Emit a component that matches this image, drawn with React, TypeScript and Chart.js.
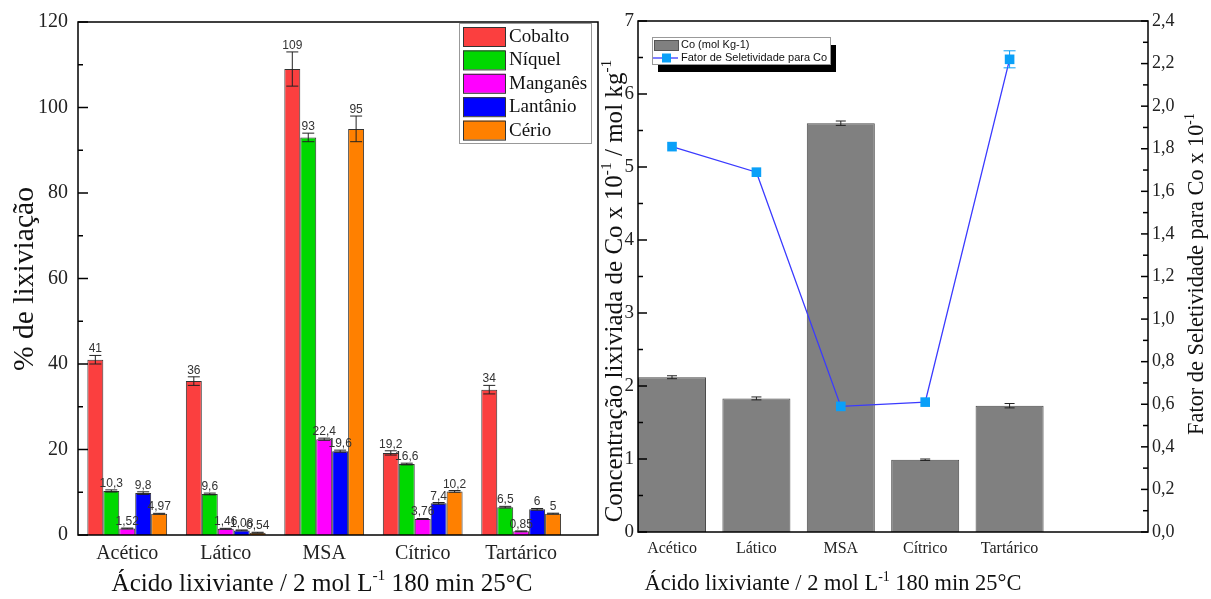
import React, { useEffect, useRef } from 'react';
import { Chart, registerables } from 'chart.js';
Chart.register(...registerables);

// ---------- data ----------
const categories = ['Acético', 'Lático', 'MSA', 'Cítrico', 'Tartárico'];

const metals = ['Cobalto', 'Níquel', 'Manganês', 'Lantânio', 'Cério'];
const metalColors = ['#fb3f3f', '#00d800', '#ff00ff', '#0000ff', '#ff8000'];
const cobalto = [41, 36, 109, 19.2, 34];
const niquel = [10.3, 9.6, 93, 16.6, 6.5];
const manganes = [1.52, 1.46, 22.4, 3.76, 0.85];
const lantanio = [9.8, 1.08, 19.6, 7.4, 6];
const cerio = [4.97, 0.54, 95, 10.2, 5];
const cobaltoErr = [1, 1, 4, 0.5, 1];
const niquelErr = [0.25, 0.2, 1, 0.2, 0.2];
const manganesErr = [0.1, 0.1, 0.25, 0.1, 0.1];
const lantanioErr = [0.3, 0.1, 0.25, 0.2, 0.2];
const cerioErr = [0.1, 0.1, 3, 0.2, 0.1];

const coConc = [2.12, 1.83, 5.6, 0.99, 1.73];
const coConcErr = [0.02, 0.02, 0.03, 0.01, 0.03];
const selectivity = [1.81, 1.69, 0.59, 0.61, 2.22];
const selectivityErr = [0, 0, 0, 0, 0.04];

const pctTicks = [0, 20, 40, 60, 80, 100, 120];
const concTicks = [0, 1, 2, 3, 4, 5, 6, 7];
const selTicks = [0, 0.2, 0.4, 0.6, 0.8, 1.0, 1.2, 1.4, 1.6, 1.8, 2.0, 2.2, 2.4];

// ---------- helpers ----------
const comma = (v: number) => String(v).replace('.', ',');

function withMinor(majors: number[]) {
  const out: { value: number; major: boolean }[] = [];
  majors.forEach((v, i) => {
    out.push({ value: v, major: true });
    if (i < majors.length - 1) out.push({ value: (v + majors[i + 1]) / 2, major: false });
  });
  return out;
}

type Seg = { t: string; sup?: boolean };
function drawRich(ctx: CanvasRenderingContext2D, segs: Seg[], x: number, y: number, angle: number, length: number, family = 'Liberation Serif', color = '#111') {
  const measure = (size: number) =>
    segs.reduce((w, s) => {
      ctx.font = `${s.sup ? size * 0.62 : size}px "${family}"`;
      return w + ctx.measureText(s.t).width;
    }, 0);
  const size = (20 * length) / measure(20);
  const total = measure(size);
  ctx.save();
  ctx.translate(x, y);
  ctx.rotate(angle);
  ctx.fillStyle = color;
  ctx.textBaseline = 'alphabetic';
  ctx.textAlign = 'left';
  let cx = -total / 2;
  segs.forEach((s) => {
    const fs = s.sup ? size * 0.62 : size;
    ctx.font = `${fs}px "${family}"`;
    ctx.fillText(s.t, cx, s.sup ? -size * 0.42 : 0);
    cx += ctx.measureText(s.t).width;
  });
  ctx.restore();
}

const errorBarPlugin = {
  id: 'errorBars',
  afterDatasetsDraw(chart: any) {
    const ctx = chart.ctx as CanvasRenderingContext2D;
    chart.data.datasets.forEach((ds: any, di: number) => {
      const errs: number[] | undefined = ds.errors;
      if (!errs) return;
      const meta = chart.getDatasetMeta(di);
      const ys = chart.scales[meta.yAxisID];
      meta.data.forEach((el: any, i: number) => {
        const v = ds.data[i].y;
        const e = errs[i];
        const x = el.x;
        const yTop = ys.getPixelForValue(v + e);
        const yBot = ys.getPixelForValue(v - e);
        ctx.save();
        if (e > 0) {
          const cap = ds.capWidth || 6;
          ctx.strokeStyle = ds.errorColor || '#222';
          ctx.lineWidth = 1;
          ctx.beginPath();
          ctx.moveTo(x, yTop);
          ctx.lineTo(x, yBot);
          ctx.moveTo(x - cap, yTop);
          ctx.lineTo(x + cap, yTop);
          ctx.moveTo(x - cap, yBot);
          ctx.lineTo(x + cap, yBot);
          ctx.stroke();
        }
        if (ds.valueLabels) {
          ctx.fillStyle = '#333';
          ctx.font = '12px "Liberation Sans"';
          ctx.textAlign = 'center';
          ctx.textBaseline = 'alphabetic';
          ctx.fillText(comma(v), x, yTop - 3);
        }
        ctx.restore();
      });
    });
  },
};

type AxisDef = { id: string; side: 'left' | 'right'; major: number; minor: number };
type TitleDef = { segs: Seg[]; x: number; y: number; angle: number; length: number };
function makeDecor(axes: AxisDef[], titles: TitleDef[], legend: (ctx: CanvasRenderingContext2D) => void) {
  return {
    id: 'decor',
    afterDraw(chart: any) {
      const ctx = chart.ctx as CanvasRenderingContext2D;
      const a = chart.chartArea;
      ctx.save();
      ctx.strokeStyle = '#000';
      ctx.lineWidth = 1.5;
      ctx.strokeRect(a.left, a.top, a.right - a.left, a.bottom - a.top);
      axes.forEach((ax) => {
        const sc = chart.scales[ax.id];
        sc.ticks.forEach((t: any) => {
          const y = sc.getPixelForValue(t.value);
          const len = t.label ? ax.major : ax.minor;
          const x0 = ax.side === 'left' ? a.left : a.right;
          const dir = ax.side === 'left' ? 1 : -1;
          ctx.beginPath();
          ctx.moveTo(x0, y);
          ctx.lineTo(x0 + dir * len, y);
          ctx.stroke();
        });
      });
      ctx.restore();
      titles.forEach((t) => drawRich(ctx, t.segs, t.x, t.y, t.angle, t.length));
      ctx.save();
      legend(ctx);
      ctx.restore();
    },
  };
}

function catAxis(min: number, max: number, fontSize: number, height: number, padding: number) {
  return {
    type: 'linear' as const,
    min,
    max,
    offset: false,
    grid: { display: false, drawTicks: false },
    border: { display: false },
    afterBuildTicks: (s: any) => {
      s.ticks = categories.map((_, i) => ({ value: i }));
    },
    afterFit: (s: any) => {
      s.height = height;
    },
    ticks: {
      autoSkip: false,
      maxRotation: 0,
      padding,
      color: '#222',
      font: { family: 'Liberation Serif', size: fontSize },
      callback: (v: any) => categories[v] ?? '',
    },
  };
}

function valAxis(majors: number[], fmt: (v: number) => string, fontSize: number, width: number, padding: number, position: 'left' | 'right') {
  const all = withMinor(majors);
  return {
    type: 'linear' as const,
    position,
    min: majors[0],
    max: majors[majors.length - 1],
    grid: { display: false, drawTicks: false },
    border: { display: false },
    afterBuildTicks: (s: any) => {
      s.ticks = all.map((t) => ({ value: t.value }));
    },
    afterFit: (s: any) => {
      s.width = width;
    },
    ticks: {
      autoSkip: false,
      padding,
      color: '#222',
      font: { family: 'Liberation Serif', size: fontSize },
      callback: (v: any) => {
        const t = all.find((m) => Math.abs(m.value - v) < 1e-9);
        return t && t.major ? fmt(v) : '';
      },
    },
  };
}

function leftConfig(): any {
  const series = [cobalto, niquel, manganes, lantanio, cerio];
  const errs = [cobaltoErr, niquelErr, manganesErr, lantanioErr, cerioErr];
  const legend = (ctx: CanvasRenderingContext2D) => {
    ctx.fillStyle = '#fff';
    ctx.fillRect(459, 23, 132, 120);
    ctx.strokeStyle = '#999';
    ctx.lineWidth = 1;
    ctx.strokeRect(459.5, 23.5, 132, 120);
    metals.forEach((m, i) => {
      const y = 27 + i * 23.4;
      ctx.fillStyle = metalColors[i];
      ctx.fillRect(463, y, 42, 19);
      ctx.strokeStyle = '#333';
      ctx.strokeRect(463.5, y + 0.5, 42, 19);
      ctx.fillStyle = '#111';
      ctx.font = '19px "Liberation Serif"';
      ctx.textBaseline = 'middle';
      ctx.textAlign = 'left';
      ctx.fillText(m, 509, y + 10);
    });
  };
  const titles: TitleDef[] = [
    { segs: [{ t: 'Ácido lixiviante / 2 mol L' }, { t: '-1', sup: true }, { t: ' 180 min 25°C' }], x: 322, y: 591, angle: 0, length: 421 },
    { segs: [{ t: '% de lixiviação' }], x: 33, y: 279, angle: -Math.PI / 2, length: 184 },
  ];
  return {
    type: 'bar',
    data: {
      datasets: metals.map((m, k) => ({
        label: m,
        data: series[k].map((v, i) => ({ x: i, y: v })),
        backgroundColor: metalColors[k],
        borderColor: '#333',
        borderWidth: 1,
        barPercentage: 1,
        categoryPercentage: 0.81,
        errors: errs[k],
        errorColor: '#222',
        capWidth: 6,
        valueLabels: true,
      })),
    },
    options: {
      responsive: false,
      animation: false,
      layout: { padding: { top: 19, right: 2, left: 0, bottom: 0 } },
      plugins: { legend: { display: false }, tooltip: { enabled: false } },
      scales: {
        x: catAxis(-0.5, 4.78, 20, 64, 7),
        y: valAxis(pctTicks, (v) => String(v), 20, 78, 10, 'left'),
      },
    },
    plugins: [
      errorBarPlugin,
      makeDecor([{ id: 'y', side: 'left', major: 10, minor: 5 }], titles, legend),
    ],
  };
}

function rightConfig(): any {
  const legend = (ctx: CanvasRenderingContext2D) => {
    ctx.fillStyle = '#000';
    ctx.fillRect(58, 45, 178, 27);
    ctx.fillStyle = '#fff';
    ctx.fillRect(52, 37, 178, 27);
    ctx.strokeStyle = '#999';
    ctx.lineWidth = 1;
    ctx.strokeRect(52.5, 37.5, 178, 27);
    ctx.fillStyle = '#808080';
    ctx.fillRect(54, 40, 24, 10);
    ctx.strokeStyle = '#555';
    ctx.strokeRect(54.5, 40.5, 24, 10);
    ctx.strokeStyle = '#3a3aff';
    ctx.lineWidth = 1.3;
    ctx.beginPath();
    ctx.moveTo(53, 58);
    ctx.lineTo(78, 58);
    ctx.stroke();
    ctx.fillStyle = '#0aa0f8';
    ctx.fillRect(62, 53.5, 9, 9);
    ctx.fillStyle = '#111';
    ctx.font = '11px "Liberation Sans"';
    ctx.textBaseline = 'middle';
    ctx.textAlign = 'left';
    ctx.fillText('Co (mol Kg-1)', 81, 45);
    ctx.fillText('Fator de Seletividade para Co', 81, 58);
  };
  const titles: TitleDef[] = [
    { segs: [{ t: 'Ácido lixiviante / 2 mol L' }, { t: '-1', sup: true }, { t: ' 180 min 25°C' }], x: 233, y: 590, angle: 0, length: 377 },
    {
      segs: [{ t: 'Concentração lixiviada de Co x 10' }, { t: '-1', sup: true }, { t: ' / mol kg' }, { t: '-1', sup: true }],
      x: 22, y: 291, angle: -Math.PI / 2, length: 463,
    },
    { segs: [{ t: 'Fator de Seletividade para Co x 10' }, { t: '-1', sup: true }], x: 603, y: 274, angle: -Math.PI / 2, length: 322 },
  ];
  return {
    type: 'bar',
    data: {
      datasets: [
        {
          type: 'line',
          label: 'Fator de Seletividade para Co',
          data: selectivity.map((v, i) => ({ x: i, y: v })),
          yAxisID: 'y1',
          borderColor: '#3a3aff',
          borderWidth: 1.3,
          pointStyle: 'rect',
          pointRadius: 6.8,
          pointBackgroundColor: '#0aa0f8',
          pointBorderColor: '#0aa0f8',
          pointBorderWidth: 0,
          tension: 0,
          order: 0,
          errors: selectivityErr,
          errorColor: '#0aa0f8',
          capWidth: 6,
        },
        {
          type: 'bar',
          label: 'Co (mol Kg-1)',
          data: coConc.map((v, i) => ({ x: i, y: v })),
          yAxisID: 'y',
          backgroundColor: '#808080',
          borderColor: '#4a4a4a',
          borderWidth: 1,
          barPercentage: 0.806,
          categoryPercentage: 1,
          order: 1,
          errors: coConcErr,
          errorColor: '#222',
          capWidth: 5,
        },
      ],
    },
    options: {
      responsive: false,
      animation: false,
      layout: { padding: { top: 21, right: 0, left: 0, bottom: 0 } },
      plugins: { legend: { display: false }, tooltip: { enabled: false } },
      scales: {
        x: catAxis(-0.403, 5.64, 16, 67, 7),
        y: valAxis(concTicks, (v) => String(v), 19, 38, 4, 'left'),
        y1: valAxis(selTicks, (v) => v.toFixed(1).replace('.', ','), 18, 63, 4, 'right'),
      },
    },
    plugins: [
      errorBarPlugin,
      makeDecor(
        [
          { id: 'y', side: 'left', major: 9, minor: 5 },
          { id: 'y1', side: 'right', major: 7, minor: 5 },
        ],
        titles,
        legend,
      ),
    ],
  };
}

export default function App() {
  const leftRef = useRef<HTMLCanvasElement>(null);
  const rightRef = useRef<HTMLCanvasElement>(null);
  useEffect(() => {
    const c1 = new Chart(leftRef.current as HTMLCanvasElement, leftConfig());
    const c2 = new Chart(rightRef.current as HTMLCanvasElement, rightConfig());
    return () => {
      c1.destroy();
      c2.destroy();
    };
  }, []);
  return (
    <div style={{ position: 'fixed', left: 0, top: 0, width: 1211, height: 599, background: '#fff', overflow: 'hidden' }}>
      <canvas ref={leftRef} width={600} height={599} style={{ position: 'absolute', left: 0, top: 0 }} />
      <canvas ref={rightRef} width={611} height={599} style={{ position: 'absolute', left: 600, top: 0 }} />
    </div>
  );
}
